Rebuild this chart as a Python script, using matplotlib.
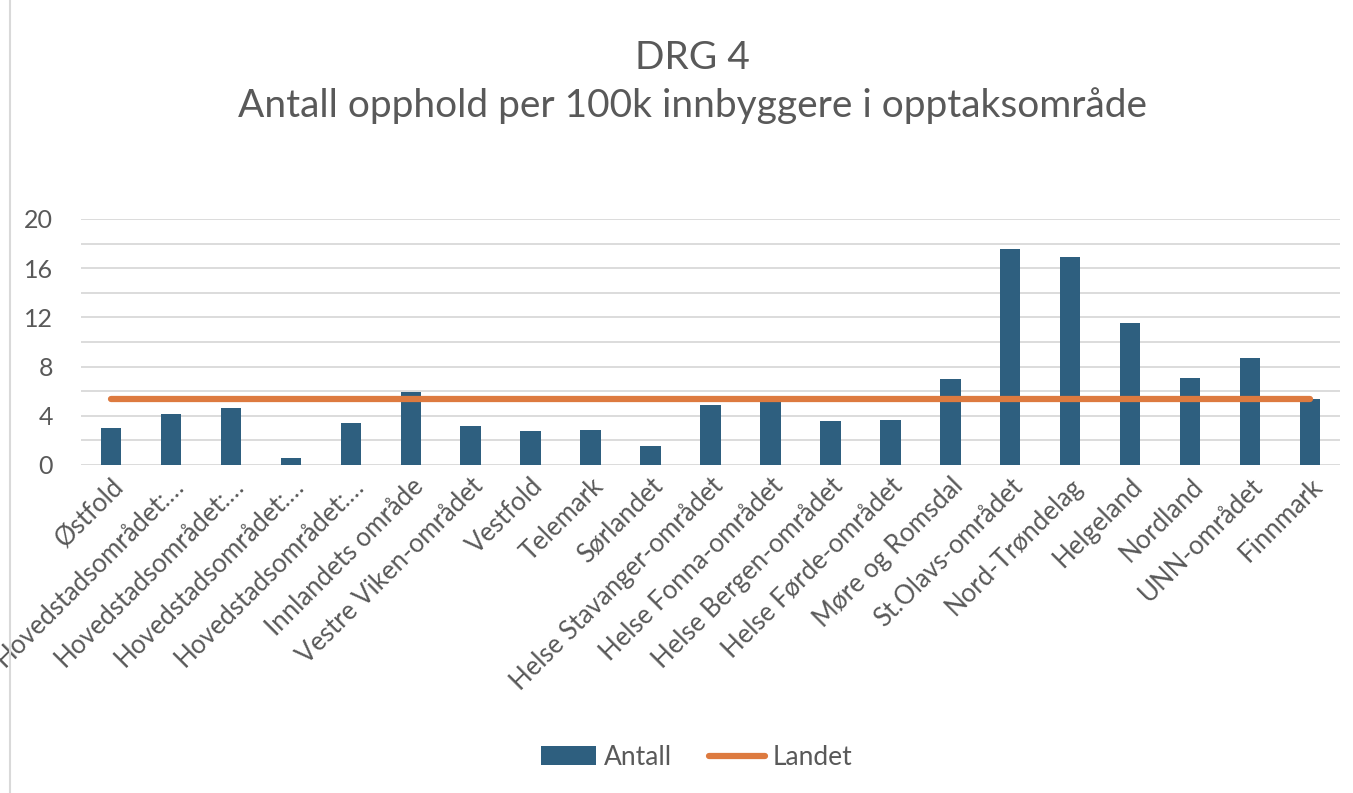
import matplotlib.pyplot as plt
from matplotlib.lines import Line2D
from matplotlib.patches import Patch

categories = ["Østfold", "Hovedstadsområdet:…", "Hovedstadsområdet:…", "Hovedstadsområdet:…",
              "Hovedstadsområdet:…", "Innlandets område", "Vestre Viken-området", "Vestfold",
              "Telemark", "Sørlandet", "Helse Stavanger-området", "Helse Fonna-området",
              "Helse Bergen-området", "Helse Førde-området", "Møre og Romsdal", "St.Olavs-området",
              "Nord-Trøndelag", "Helgeland", "Nordland", "UNN-området", "Finnmark"]
antall = [3.0, 4.15, 4.6, 0.6, 3.4, 5.95, 3.15, 2.75, 2.85, 1.55, 4.9, 5.3, 3.6, 3.65,
          7.0, 17.6, 16.9, 11.55, 7.1, 8.7, 5.35]
landet = 5.4

plt.rcParams['font.family'] = ['Lato', 'DejaVu Sans']
grey = "#595959"
bar_color = "#2E5F7F"
line_color = "#DD7A3F"

fig = plt.figure(figsize=(13.53, 7.93), dpi=100)
ax = fig.add_axes([81 / 1353, 1 - 465 / 793, (1340 - 81) / 1353, (465 - 219) / 793])

x = list(range(len(categories)))
ax.bar(x, antall, width=0.34, color=bar_color, zorder=2)
ax.plot(x, [landet] * len(x), color=line_color, linewidth=4.5, solid_capstyle='round', zorder=3)

ax.set_xlim(-0.5, len(x) - 0.5)
ax.set_ylim(0, 20)
ax.set_yticks(range(0, 21, 4))
ax.set_yticks(range(0, 21, 2), minor=True)
ax.grid(axis='y', which='both', color="#D9D9D9", linewidth=1.3, zorder=0)
for s in ax.spines.values():
    s.set_visible(False)
ax.tick_params(axis='both', which='both', length=0, colors=grey, labelsize=18)
ax.tick_params(axis='y', pad=20)
ax.tick_params(axis='x', pad=6)
ax.set_xticks(x)
ax.set_xticklabels(categories, rotation=45, ha='right', rotation_mode='anchor', fontsize=18.5)

fig.text(0.512, 0.927, "DRG 4", ha='center', va='center', fontsize=28, color=grey)
fig.text(0.512, 0.867, "Antall opphold per 100k innbyggere i opptaksområde", ha='center',
         va='center', fontsize=28, color=grey)

fig.add_artist(Line2D([10 / 1353, 10 / 1353], [0, 1], color="#D9D9D9", linewidth=1.5))

handles = [Patch(facecolor=bar_color, label="Antall"),
           Line2D([0], [0], color=line_color, linewidth=4.5, solid_capstyle='round', label="Landet")]
fig.legend(handles=handles, loc='center', bbox_to_anchor=(0.515, 0.045), ncol=2, frameon=False,
           fontsize=19, labelcolor=grey, handlelength=2.1, handleheight=0.7, columnspacing=1.4,
           handletextpad=0.3)

fig.savefig("out.png", dpi=100)
